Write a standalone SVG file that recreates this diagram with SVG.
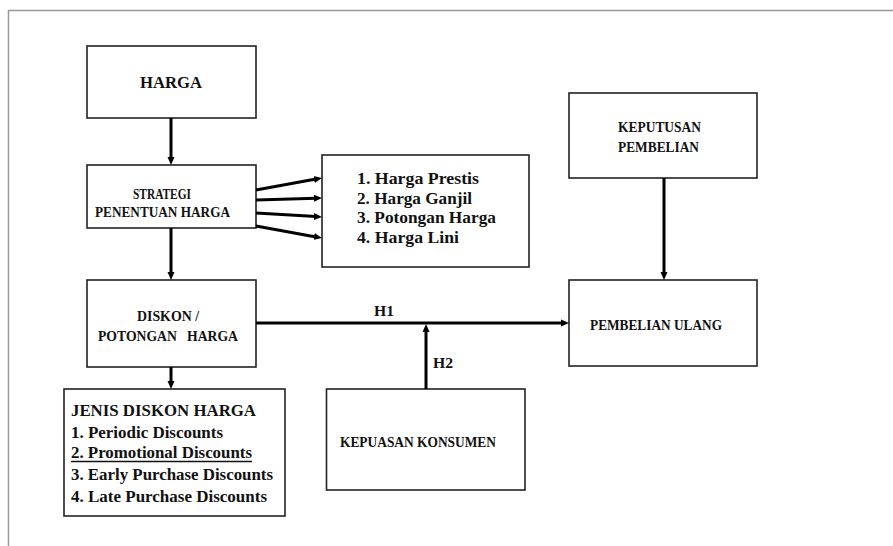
<svg xmlns="http://www.w3.org/2000/svg" width="893" height="546" viewBox="0 0 893 546">
<style>
.box{fill:#fff;stroke:#222;stroke-width:1.6}
.t{font-family:'Liberation Serif','DejaVu Serif',serif;font-weight:bold;fill:#111}
.c{stroke:#000;stroke-width:3;fill:none;marker-end:url(#ah)}
</style>
<defs>
<marker id="ah" markerUnits="userSpaceOnUse" markerWidth="9" markerHeight="8" refX="2" refY="4" orient="auto">
<path d="M0,0.5 L8,4 L0,7.5 z" fill="#000"/>
</marker>
</defs>
<rect width="893" height="546" fill="#fff"/>
<path d="M8.5,546 V10.5 H893" fill="none" stroke="#999" stroke-width="1.5"/>

<g id="harga">
<rect class="box" x="87" y="46" width="169" height="72"/>
<text class="t" x="171" y="88" font-size="16.5" text-anchor="middle" textLength="62" lengthAdjust="spacingAndGlyphs">HARGA</text>
</g>
<g id="strategi">
<rect class="box" x="87" y="165" width="169" height="63"/>
<text class="t" x="162" y="199" font-size="14" text-anchor="middle" textLength="58" lengthAdjust="spacingAndGlyphs">STRATEGI</text>
<text class="t" x="162.5" y="217" font-size="14" text-anchor="middle" textLength="135" lengthAdjust="spacingAndGlyphs">PENENTUAN HARGA</text>
</g>
<g id="jenis-harga">
<rect class="box" x="322" y="155" width="207" height="112"/>
<text class="t" x="357" y="184" font-size="16" textLength="122" lengthAdjust="spacingAndGlyphs">1. Harga Prestis</text>
<text class="t" x="357" y="204" font-size="16" textLength="115" lengthAdjust="spacingAndGlyphs">2. Harga Ganjil</text>
<text class="t" x="357" y="223" font-size="16" textLength="139" lengthAdjust="spacingAndGlyphs">3. Potongan Harga</text>
<text class="t" x="357" y="243" font-size="16" textLength="102" lengthAdjust="spacingAndGlyphs">4. Harga Lini</text>
</g>
<g id="diskon">
<rect class="box" x="87" y="280" width="169" height="87"/>
<text class="t" x="168" y="321" font-size="14.5" text-anchor="middle" textLength="62" lengthAdjust="spacingAndGlyphs">DISKON /</text>
<text class="t" x="168" y="341" font-size="14.5" text-anchor="middle" textLength="140" lengthAdjust="spacingAndGlyphs" xml:space="preserve">POTONGAN   HARGA</text>
</g>
<g id="jenis-diskon">
<rect class="box" x="64" y="389" width="221" height="127"/>
<text class="t" x="71" y="415.5" font-size="16" textLength="185" lengthAdjust="spacingAndGlyphs">JENIS DISKON HARGA</text>
<text class="t" x="71" y="437.5" font-size="16" textLength="152" lengthAdjust="spacingAndGlyphs">1. Periodic Discounts</text>
<text class="t" x="71" y="458" font-size="16" textLength="181" lengthAdjust="spacingAndGlyphs">2. Promotional Discounts</text>
<line x1="71" y1="461.5" x2="252" y2="461.5" stroke="#111" stroke-width="1.3"/>
<text class="t" x="71" y="480" font-size="16" textLength="202" lengthAdjust="spacingAndGlyphs">3. Early Purchase Discounts</text>
<text class="t" x="71" y="502" font-size="16" textLength="196" lengthAdjust="spacingAndGlyphs">4. Late Purchase Discounts</text>
</g>
<g id="kepuasan">
<rect class="box" x="326.5" y="389" width="198.5" height="101"/>
<text class="t" x="340" y="446.5" font-size="14" textLength="156" lengthAdjust="spacingAndGlyphs">KEPUASAN KONSUMEN</text>
</g>
<g id="keputusan">
<rect class="box" x="569" y="93" width="188" height="85"/>
<text class="t" x="659.5" y="131.5" font-size="14" text-anchor="middle" textLength="83" lengthAdjust="spacingAndGlyphs">KEPUTUSAN</text>
<text class="t" x="658.5" y="151.5" font-size="14" text-anchor="middle" textLength="81" lengthAdjust="spacingAndGlyphs">PEMBELIAN</text>
</g>
<g id="pembelian-ulang">
<rect class="box" x="569" y="280" width="188" height="86"/>
<text class="t" x="590" y="329.5" font-size="14.5" textLength="132" lengthAdjust="spacingAndGlyphs">PEMBELIAN ULANG</text>
</g>

<g id="connectors">
<line class="c" x1="171" y1="118" x2="171" y2="159"/>
<line class="c" x1="171" y1="228" x2="171" y2="274"/>
<line class="c" x1="171" y1="367" x2="171" y2="383"/>
<line class="c" x1="664" y1="178" x2="664" y2="274"/>
<line class="c" x1="256" y1="323" x2="563" y2="323"/>
<line class="c" x1="426" y1="389" x2="426" y2="330"/>
<line class="c" x1="256" y1="190" x2="316.1" y2="179.1"/>
<line class="c" x1="256" y1="200" x2="316" y2="198.2"/>
<line class="c" x1="256" y1="213" x2="316" y2="216.6"/>
<line class="c" x1="256" y1="226" x2="316.1" y2="236.9"/>
<text class="t" x="374" y="315.5" font-size="15" textLength="20" lengthAdjust="spacingAndGlyphs">H1</text>
<text class="t" x="433" y="367.5" font-size="15" textLength="20" lengthAdjust="spacingAndGlyphs">H2</text>
</g>
</svg>
